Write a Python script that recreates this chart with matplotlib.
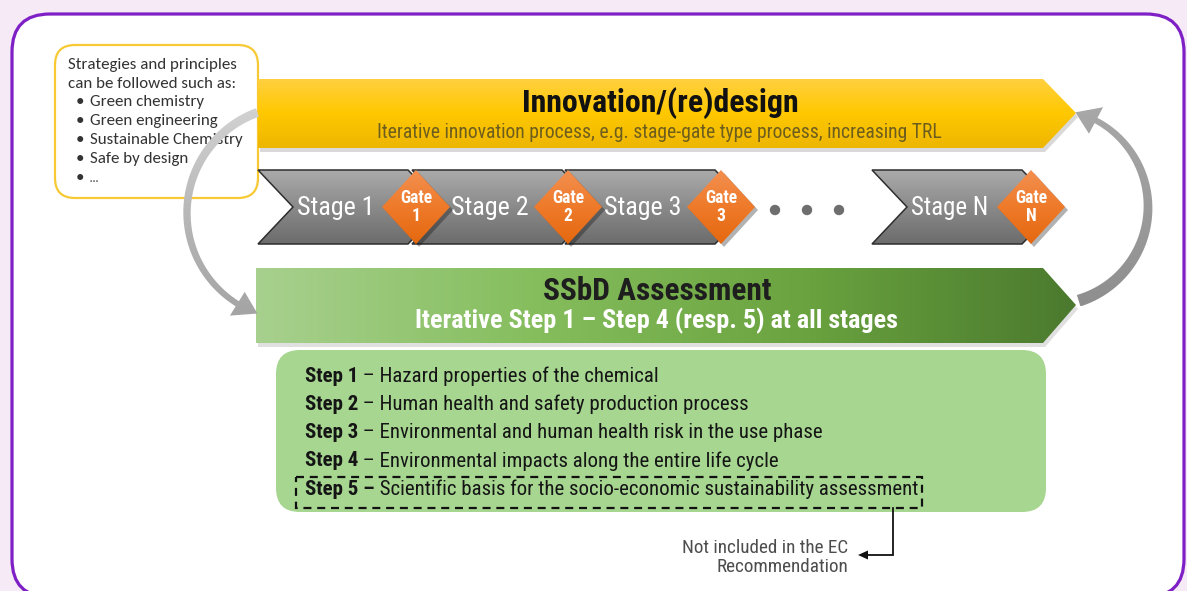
import matplotlib
matplotlib.use("Agg")
import numpy as np
import matplotlib.pyplot as plt
from matplotlib import font_manager
from matplotlib.patches import Polygon, FancyBboxPatch, Rectangle, Circle
from matplotlib.colors import LinearSegmentedColormap

# ---------------- data (texts) ----------------
strategy_header = ["Strategies and principles", "can be followed such as:"]
strategy_items = ["Green chemistry", "Green engineering", "Sustainable Chemistry",
                  "Safe by design", "\u2026"]
innovation_title = "Innovation/(re)design"
innovation_sub = "Iterative innovation process, e.g. stage-gate type process, increasing TRL"
stage_labels = ["Stage 1", "Stage 2", "Stage 3", "Stage N"]
gate_labels = ["1", "2", "3", "N"]
ssbd_title = "SSbD Assessment"
ssbd_sub = "Iterative Step 1 \u2013 Step 4 (resp. 5) at all stages"
step_labels = ["Step 1", "Step 2", "Step 3", "Step 4", "Step 5 \u2013"]
step_texts = [" \u2013 Hazard properties of the chemical",
              " \u2013 Human health and safety production process",
              " \u2013 Environmental and human health risk in the use phase",
              " \u2013 Environmental impacts along the entire life cycle",
              " Scientific basis for the socio-economic sustainability assessment"]
note_lines = ["Not included in the EC", "Recommendation"]

# ---------------- fonts ----------------
names = {f.name for f in font_manager.fontManager.ttflist}
COND = next((n for n in ["Liberation Sans Narrow", "Roboto Condensed", "Roboto"] if n in names), "DejaVu Sans")
BOXF = next((n for n in ["Carlito", "Lato", "Open Sans"] if n in names), "DejaVu Sans")

W, H = 1187, 591
fig = plt.figure(figsize=(W / 100, H / 100), dpi=100, facecolor="#F5EAF5")
ax = fig.add_axes([0, 0, 1, 1])
ax.set_xlim(0, W)
ax.set_ylim(H, 0)
ax.axis("off")
renderer = fig.canvas.get_renderer()


def fit_text(x, y, s, width, **kw):
    t = ax.text(x, y, s, fontsize=10, **kw)
    w = t.get_window_extent(renderer).width
    t.set_fontsize(10 * width / w)
    return t


def grad_fill(verts, colors, extent, horizontal=False, z=3, edge=None, lw=1.0):
    patch = Polygon(verts, closed=True, facecolor="none", edgecolor="none", zorder=z)
    ax.add_patch(patch)
    n = 256
    arr = np.linspace(0, 1, n).reshape(1, n) if horizontal else np.linspace(0, 1, n).reshape(n, 1)
    cmap = LinearSegmentedColormap.from_list("g", colors)
    x0, x1, y0, y1 = extent
    im = ax.imshow(arr, cmap=cmap, extent=(x0, x1, y1, y0), origin="upper",
                   aspect="auto", zorder=z, interpolation="bilinear")
    im.set_clip_path(patch)
    if edge is not None:
        ax.add_patch(Polygon(verts, closed=True, facecolor="none", edgecolor=edge,
                             lw=lw, zorder=z + 0.05, joinstyle="miter"))
    return patch


def arc_arrow(cx, cy, R, a0, a1, atip, w0, w1, head_w, colors, z=6):
    a0, a1, atip = np.radians([a0, a1, atip])
    ang = np.linspace(a0, a1, 80)
    wid = np.linspace(w0, w1, 80)
    outer = [(cx + (R + w / 2) * np.cos(a), cy + (R + w / 2) * np.sin(a)) for a, w in zip(ang, wid)]
    inner = [(cx + (R - w / 2) * np.cos(a), cy + (R - w / 2) * np.sin(a)) for a, w in zip(ang, wid)]
    hb_out = (cx + (R + head_w / 2) * np.cos(a1), cy + (R + head_w / 2) * np.sin(a1))
    hb_in = (cx + (R - head_w / 2) * np.cos(a1), cy + (R - head_w / 2) * np.sin(a1))
    tip = (cx + R * np.cos(atip), cy + R * np.sin(atip))
    verts = outer + [hb_out, tip, hb_in] + inner[::-1]
    xs = [v[0] for v in verts]
    ys = [v[1] for v in verts]
    grad_fill(verts, colors, (min(xs), max(xs), min(ys), max(ys)), z=z)


# ---------------- outer frame ----------------
ax.add_patch(FancyBboxPatch((12, 14), 1172, 583, boxstyle="round,pad=0,rounding_size=38",
                            facecolor="white", edgecolor="#7F1FC6", lw=2.3, zorder=0))

# ---------------- strategies box ----------------
ax.add_patch(FancyBboxPatch((55, 45), 203, 153, boxstyle="round,pad=0,rounding_size=20",
                            facecolor="white", edgecolor="#F7C934", lw=1.6, zorder=2))
t0 = fit_text(68, 65, strategy_header[0], 169, family=BOXF, color="#333333",
              ha="left", va="center", zorder=2.5)
fs_box = t0.get_fontsize()
ax.text(68, 84, strategy_header[1], family=BOXF, fontsize=fs_box, color="#333333",
        ha="left", va="center", zorder=2.5)
for i, item in enumerate(strategy_items):
    y = 102 + i * 19
    ax.text(76, y, "\u2022", family=BOXF, fontsize=fs_box, color="#333333", ha="left", va="center", zorder=2.5)
    ax.text(90, y, item, family=BOXF, fontsize=fs_box * (0.7 if item == "\u2026" else 1.0),
            color="#333333", ha="left", va="center", zorder=2.5)

# ---------------- innovation arrow (yellow) ----------------
yel = [(258, 79), (1043, 79), (1076, 113), (1043, 148), (258, 148)]
ax.add_patch(Polygon([(x + 2, y + 4) for x, y in yel], closed=True, facecolor="black",
                     alpha=0.15, edgecolor="none", zorder=2.8))
grad_fill(yel, ["#FFD040", "#FFC800", "#EDB600"], (258, 1076, 79, 148), z=3)
fit_text(660, 103, innovation_title, 277, family=COND, weight="bold", color="#111111",
         ha="center", va="center", zorder=4)
fit_text(659, 132, innovation_sub, 562, family=COND, color="#6E5E1E",
         ha="center", va="center", zorder=4)

# ---------------- stage chevrons ----------------
stage_left = [258, 412, 565, 872]
stage_len = 150
ytop, ybot, ymid = 170, 244, 207
gate_cx = [416, 568, 721, 1031]
for L, lab in zip(stage_left, stage_labels):
    R = L + stage_len
    verts = [(L, ytop), (R, ytop), (R + 36, ymid), (R, ybot), (L, ybot), (L + 35, ymid)]
    grad_fill(verts, ["#ABABAB", "#8A8A8A", "#6C6C6C"], (L, R + 36, ytop, ybot), z=3,
              edge="#2E2E2E", lw=1.1)
    fit_text(L + 78, ymid + 1, lab, 77, family=COND, color="white", ha="center", va="center", zorder=4)

for cx, g in zip(gate_cx, gate_labels):
    dv = [(cx, 170), (cx + 34, 207), (cx, 244), (cx - 34, 207)]
    ax.add_patch(Polygon([(x + 3, y + 3) for x, y in dv], closed=True, facecolor="black",
                         alpha=0.3, edgecolor="none", zorder=4.5))
    grad_fill(dv, ["#F39050", "#EE7A2A", "#E5680F"], (cx - 34, cx + 34, 170, 244), z=5)
    tg = fit_text(cx, 198, "Gate", 32, family=COND, weight="bold", color="white",
                  ha="center", va="center", zorder=5.5)
    ax.text(cx, 216, g, family=COND, weight="bold", color="white", fontsize=tg.get_fontsize(),
            ha="center", va="center", zorder=5.5)

dots_x = [775, 807, 839]
for dx in dots_x:
    ax.add_patch(Circle((dx, 210), 5.2, facecolor="#6E6E6E", edgecolor="none", zorder=4))

# ---------------- SSbD arrow (green) ----------------
grn = [(256, 268), (1043, 268), (1076, 305), (1043, 343), (256, 343)]
ax.add_patch(Polygon([(x + 2, y + 4) for x, y in grn], closed=True, facecolor="black",
                     alpha=0.12, edgecolor="none", zorder=2.8))
grad_fill(grn, ["#A7D08E", "#86BE5E", "#6AA33F", "#4B7A2E"], (256, 1076, 268, 343),
          horizontal=True, z=3)
fit_text(657, 291, ssbd_title, 229, family=COND, weight="bold", color="#1E1E1E",
         ha="center", va="center", zorder=4)
fit_text(656, 321, ssbd_sub, 485, family=COND, weight="bold", color="white",
         ha="center", va="center", zorder=4)

# ---------------- steps box ----------------
ax.add_patch(FancyBboxPatch((276, 350), 770, 162, boxstyle="round,pad=0,rounding_size=24",
                            facecolor="#A6D690", edgecolor="none", zorder=2))

# fit font size on the Step 5 line (must sit inside the dashed box)
tb = ax.text(0, 0, step_labels[4], family=COND, weight="bold", fontsize=10)
tn = ax.text(0, 0, step_texts[4], family=COND, fontsize=10)
wtot = tb.get_window_extent(renderer).width + tn.get_window_extent(renderer).width
fs_step = 10 * 608 / wtot
tb.remove()
tn.remove()
for i, (lab, txt) in enumerate(zip(step_labels, step_texts)):
    y = 376 + i * 28.3
    b = ax.text(305, y, lab, family=COND, weight="bold", fontsize=fs_step, color="#151515",
                ha="left", va="center", zorder=4)
    bw = b.get_window_extent(renderer).width
    ax.text(305 + bw, y, txt, family=COND, fontsize=fs_step, color="#151515",
            ha="left", va="center", zorder=4)

ax.add_patch(Rectangle((296, 477), 626, 31, fill=False, edgecolor="#111111", lw=1.6,
                       linestyle=(0, (3.6, 2.6)), zorder=4))

# connector to note
ax.plot([893, 893, 866], [508, 555, 555], color="#111111", lw=1.3, zorder=4,
        solid_joinstyle="miter")
ax.add_patch(Polygon([(858, 555), (868, 550.5), (868, 559.5)], closed=True,
                     facecolor="#111111", edgecolor="none", zorder=4))
tnote = fit_text(848, 548, note_lines[0], 166, family=COND, color="#4D4D4D",
                 ha="right", va="center", zorder=4)
ax.text(848, 567, note_lines[1], family=COND, fontsize=tnote.get_fontsize(), color="#4D4D4D",
        ha="right", va="center", zorder=4)

# ---------------- curved gray arrows ----------------
arc_arrow(294, 213, 107, 250, 122, 110, 9, 6, 28, ["#D2D2D2", "#B8B8B8", "#A4A4A4"], z=6)
arc_arrow(1050, 207, 98, 73, -62, -75, 12, 6, 30, ["#A8A8A8", "#9C9C9C", "#8E8E8E"], z=6)

ax.set_xlim(0, W)
ax.set_ylim(H, 0)
fig.savefig("out.png", dpi=100, facecolor=fig.get_facecolor())
